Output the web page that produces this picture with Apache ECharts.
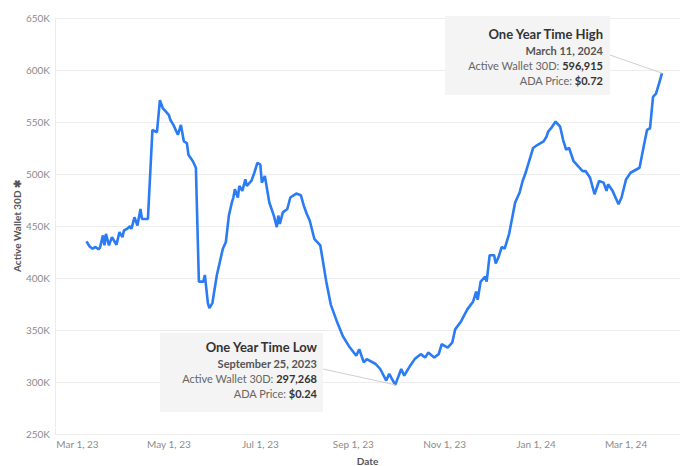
<!DOCTYPE html>
<html><head><meta charset="utf-8">
<script src="https://cdn.jsdelivr.net/npm/echarts@6/dist/echarts.min.js"></script>
<style>html,body{margin:0;padding:0;background:#fff}#c{width:682px;height:466px}</style>
</head><body><div id="c"></div>
<script>
const dates = [
'2023-03-07','2023-03-09','2023-03-11','2023-03-13','2023-03-15','2023-03-16','2023-03-18','2023-03-19','2023-03-20','2023-03-22',
'2023-03-24','2023-03-27','2023-03-29','2023-03-31','2023-04-01','2023-04-03','2023-04-05','2023-04-06','2023-04-08','2023-04-10',
'2023-04-12','2023-04-13','2023-04-17','2023-04-20','2023-04-23','2023-04-25','2023-04-27','2023-04-29','2023-05-01','2023-05-02',
'2023-05-04','2023-05-07','2023-05-09','2023-05-11','2023-05-13','2023-05-14','2023-05-17','2023-05-19','2023-05-21','2023-05-24',
'2023-05-25','2023-05-27','2023-05-28','2023-05-30','2023-06-02','2023-06-06','2023-06-08','2023-06-10','2023-06-12','2023-06-13',
'2023-06-14','2023-06-16','2023-06-17','2023-06-19','2023-06-21','2023-06-22','2023-06-25','2023-06-27','2023-06-29','2023-07-01',
'2023-07-02','2023-07-04','2023-07-07','2023-07-10','2023-07-12','2023-07-13','2023-07-14','2023-07-16','2023-07-19','2023-07-21',
'2023-07-25','2023-07-28','2023-07-30','2023-08-01','2023-08-03','2023-08-06','2023-08-10','2023-08-14','2023-08-17','2023-08-21',
'2023-08-25','2023-08-29','2023-09-03','2023-09-05','2023-09-08','2023-09-10','2023-09-16','2023-09-19','2023-09-23','2023-09-25',
'2023-09-29','2023-10-03','2023-10-05','2023-10-09','2023-10-12','2023-10-16','2023-10-19','2023-10-21','2023-10-25','2023-10-28',
'2023-10-30','2023-11-03','2023-11-06','2023-11-08','2023-11-12','2023-11-16','2023-11-20','2023-11-22','2023-11-23','2023-11-25',
'2023-11-28','2023-11-29','2023-12-01','2023-12-04','2023-12-05','2023-12-07','2023-12-09','2023-12-11','2023-12-14','2023-12-18',
'2023-12-21','2023-12-23','2023-12-25','2023-12-27','2023-12-30','2024-01-02','2024-01-06','2024-01-08','2024-01-09','2024-01-11',
'2024-01-14','2024-01-17','2024-01-19','2024-01-21','2024-01-23','2024-01-26','2024-01-29','2024-02-01','2024-02-03','2024-02-06',
'2024-02-09','2024-02-12','2024-02-15','2024-02-17','2024-02-18','2024-02-21','2024-02-25','2024-02-27','2024-03-01','2024-03-04',
'2024-03-10','2024-03-13','2024-03-15','2024-03-17','2024-03-19','2024-03-21','2024-03-23','2024-03-25'
];
const activeWallets = [
435200,430500,428200,429800,427600,429200,441000,431400,442500,431400,
439300,432000,444100,439300,445700,447200,449800,447200,458400,450500,
466300,456800,456800,542400,540000,571000,563000,559900,556600,551900,
547200,537700,547200,531300,529700,518600,512300,506000,396500,396500,
402900,375900,371100,375900,402900,428200,434600,460000,472600,477400,
485300,477400,488500,483800,494800,488500,493300,501200,510700,509100,
491700,498100,472600,460000,448900,460000,452000,463100,466300,477400,
481200,479600,469500,461500,455000,437700,431400,396500,374400,358500,
344200,334700,325200,331500,318800,322000,317300,312500,301400,307800,
297268,312500,306100,315700,322000,326800,323500,328300,323500,326800,
336300,333100,337800,350600,358500,369600,377500,387000,379100,396500,
401300,396500,421900,421900,413900,420300,429800,428200,442500,472600,
482200,493300,501200,510700,525000,528100,531300,536100,540800,544000,
550400,545600,532900,523400,525000,512300,507500,502800,502800,496400,
480500,493300,491700,483800,490100,483800,471000,477400,494800,501200,
506000,528100,542400,544000,574200,577300,586800,596915
];
const xTickDates = ['2023-03-01','2023-05-01','2023-07-01','2023-09-01','2023-11-01','2024-01-01','2024-03-01'];
const xMin = '2023-02-14', xMax = '2024-04-06';
const yMin = 250000, yMax = 650000, yStep = 50000;
const highNote = ['One Year Time High', 'March 11, 2024', '596,915', '$0.72'];
const lowNote = ['One Year Time Low', 'September 25, 2023', '297,268', '$0.24'];

const FONT = 'Lato, "Open Sans", sans-serif';
const MONTHS = ['Jan','Feb','Mar','Apr','May','Jun','Jul','Aug','Sep','Oct','Nov','Dec'];
const ts = s => +new Date(s + 'T00:00:00');
const chart = echarts.init(document.getElementById('c'), null, {renderer: 'svg'});
const seriesData = dates.map((d, i) => [ts(d), activeWallets[i]]);

chart.setOption({
  animation: false,
  backgroundColor: '#fff',
  grid: {left: 55, right: 2, top: 18, bottom: 32, containLabel: false, outerBoundsMode: 'none'},
  xAxis: {
    type: 'value', min: ts(xMin), max: ts(xMax),
    name: 'Date', nameLocation: 'middle', nameGap: 22, nameMoveOverlap: false,
    nameTextStyle: {fontFamily: FONT, fontSize: 10, color: '#555', fontWeight: 'bold'},
    axisLine: {show: true, lineStyle: {color: '#ececec'}},
    axisTick: {show: false},
    splitLine: {show: false},
    axisLabel: {
      customValues: xTickDates.map(ts),
      formatter: v => { const d = new Date(v); return MONTHS[d.getMonth()] + ' ' + d.getDate() + ', ' + String(d.getFullYear()).slice(2); },
      fontFamily: FONT, fontSize: 10, color: '#8c8c8c', margin: 5, showMinLabel: true, showMaxLabel: true
    }
  },
  yAxis: {
    type: 'value', min: yMin, max: yMax, interval: yStep,
    name: 'Active Wallet 30D ✱', nameLocation: 'middle', nameGap: 33, nameRotate: 90, nameMoveOverlap: false,
    nameTextStyle: {fontFamily: FONT, fontSize: 10, color: '#555', fontWeight: 'bold'},
    axisLine: {show: true, lineStyle: {color: '#ececec'}},
    axisTick: {show: false},
    splitLine: {lineStyle: {color: '#ececec', width: 1}},
    axisLabel: {formatter: v => (v / 1000) + 'K', fontFamily: FONT, fontSize: 10, color: '#8c8c8c', margin: 5}
  },
  series: [{
    type: 'line', data: seriesData, showSymbol: false, smooth: false,
    lineStyle: {color: '#2b7bf3', width: 2.6}, itemStyle: {color: '#2b7bf3'}
  }]
});

function noteGraphics(lines, box, textRight, lineYs, anchorFrom, pt) {
  const rich = {
    n: {fontFamily: FONT, fontSize: 11, fill: '#666'},
    b: {fontFamily: FONT, fontSize: 11, fill: '#333', fontWeight: 'bold'}
  };
  return [
    {type: 'rect', shape: {x: box[0], y: box[1], width: box[2], height: box[3]}, style: {fill: '#f4f4f4'}, z: 10},
    {type: 'line', shape: {x1: anchorFrom[0], y1: anchorFrom[1], x2: pt[0], y2: pt[1]}, style: {stroke: '#cfcfcf', lineWidth: 1}, z: 11},
    {type: 'text', x: textRight, y: lineYs[0], style: {text: lines[0], fontFamily: FONT, fontSize: 13, fontWeight: 'bold', fill: '#333', align: 'right', verticalAlign: 'middle'}, z: 12},
    {type: 'text', x: textRight, y: lineYs[1], style: {text: lines[1], fontFamily: FONT, fontSize: 11, fontWeight: 'bold', fill: '#555', align: 'right', verticalAlign: 'middle'}, z: 12},
    {type: 'text', x: textRight, y: lineYs[2], style: {text: '{n|Active Wallet 30D: }{b|' + lines[2] + '}', rich, align: 'right', verticalAlign: 'middle'}, z: 12},
    {type: 'text', x: textRight, y: lineYs[3], style: {text: '{n|ADA Price: }{b|' + lines[3] + '}', rich, align: 'right', verticalAlign: 'middle'}, z: 12}
  ];
}

let iMax = 0, iMin = 0;
activeWallets.forEach((v, i) => { if (v > activeWallets[iMax]) iMax = i; if (v < activeWallets[iMin]) iMin = i; });
const pHigh = chart.convertToPixel({seriesIndex: 0}, seriesData[iMax]);
const pLow = chart.convertToPixel({seriesIndex: 0}, seriesData[iMin]);

chart.setOption({
  graphic: [
    ...noteGraphics(highNote, [445, 16, 165, 79], 603, [34, 50, 65, 80], [610, 55], pHigh),
    ...noteGraphics(lowNote, [160, 333, 163, 79], 317, [347, 363, 378, 393], [323, 369], pLow)
  ]
});
</script></body></html>
